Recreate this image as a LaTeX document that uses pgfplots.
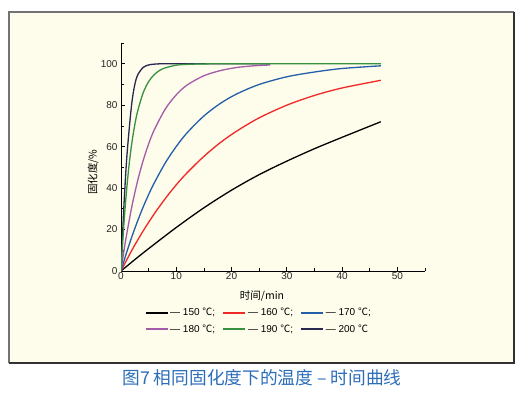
\documentclass[border=0pt]{standalone}
\usepackage{pgfplots}
\pgfplotsset{compat=1.18}
\usepackage{fontspec}
\setmainfont{Liberation Sans}
\newfontfamily\cjk{Noto Sans CJK SC}
\definecolor{cream}{RGB}{254,252,234}
\definecolor{boxgray}{RGB}{115,115,115}
\definecolor{boxdark}{RGB}{50,50,50}
\definecolor{capblue}{RGB}{45,110,185}
\definecolor{cred}{RGB}{240,40,40}
\definecolor{cblue}{RGB}{35,95,170}
\definecolor{cpurple}{RGB}{165,90,170}
\definecolor{cgreen}{RGB}{55,145,65}
\definecolor{cnavy}{RGB}{40,40,80}
\pgfplotsset{mylegend/.style={legend image code/.code={\draw[##1] (0pt,0pt) -- (22pt,0pt);}}}
\begin{document}
\begin{tikzpicture}
\useasboundingbox (0pt,0pt) rectangle (529pt,399pt);
\fill[white] (0pt,0pt) rectangle (529pt,399pt);
\fill[cream] (9pt,36pt) rectangle (514pt,387pt);
\draw[boxgray, line width=1.1pt] (9pt,36pt) -- (9pt,387pt) -- (514pt,387pt);
\draw[boxdark, line width=1.1pt] (9pt,36pt) -- (514pt,36pt) -- (514pt,387pt);
\begin{axis}[
  at={(121pt,128pt)}, anchor=south west,
  scale only axis, width=304pt, height=228pt,
  xmin=0, xmax=55, ymin=0, ymax=110,
  axis x line=bottom, axis y line=left,
  axis line style={-, line width=0.9pt, black},
  xtick={0,10,...,50}, ytick={0,20,...,100},
  minor xtick={5,15,...,55}, minor ytick={10,30,...,110},
  tick align=inside,
  major tick length=4pt, minor tick length=3pt,
  every tick/.style={black, line width=0.8pt},
  /pgf/number format/assume math mode=true,
  tick label style={font=\fontsize{10}{12}\selectfont, text=black!85},
  xticklabel style={inner sep=1.5pt},
  xlabel={\cjk 时间/min},
  ylabel={\cjk 固化度/\%},
  label style={font=\fontsize{10.5}{12}\selectfont},
  xlabel style={at={(axis description cs:0.464,-0.1096)}, anchor=center},
  ylabel style={at={(axis description cs:-0.092,0.434)}, anchor=center},
  legend columns=3,
  legend cell align=left,
  mylegend,
  legend style={draw=none, fill=none, at={(rel axis cs:0.078,-0.154)}, anchor=north west,
    inner sep=0pt, font=\fontsize{10}{12}\selectfont,
    /tikz/every even column/.append style={column sep=5.5pt},
    row sep=3pt},
  every axis plot/.append style={line width=1.3pt},
]
\addlegendimage{black, line width=1.3pt}
\addlegendentry{— 150 {\cjk ℃};}
\addlegendimage{cred, line width=1.3pt}
\addlegendentry{— 160 {\cjk ℃};}
\addlegendimage{cblue, line width=1.3pt}
\addlegendentry{— 170 {\cjk ℃};}
\addlegendimage{cpurple, line width=1.3pt}
\addlegendentry{— 180 {\cjk ℃};}
\addlegendimage{cgreen, line width=1.3pt}
\addlegendentry{— 190 {\cjk ℃};}
\addlegendimage{cnavy, line width=1.3pt}
\addlegendentry{— 200 {\cjk ℃}}
% 150 C
\addplot[black, smooth, forget plot] coordinates {
(0,0) (2.5,5.5) (5,10.8) (10,21) (15,30.5) (20,39) (25,46.5) (30,53) (35,59) (40,64.5) (47,72)};
% 160 C
\addplot[cred, smooth, forget plot] coordinates {
(0,0) (2,10.2) (4,19.3) (6,27.5) (8,34.9) (10,41.6) (12,47.5) (15,55.3) (18,62.0) (21,67.6) (25,73.9) (30,80.0) (35,84.7) (40,88.3) (47,92.0)};
% 170 C
\addplot[cblue, smooth, forget plot] coordinates {
(0,0) (1,8.8) (2,16.8) (3,24.1) (4,30.8) (5,36.9) (6,42.4) (8,52.1) (10,60.1) (12,66.8) (15,74.8) (18,80.9) (21,85.5) (25,90.0) (30,93.7) (35,96.0) (40,97.7) (47,99.0)};
% 180 C
\addplot[cpurple, smooth, forget plot] coordinates {
(0,0) (0.5,9.1) (1,17.3) (2,31.6) (3,43.4) (4,53.2) (5,61.3) (6,68.0) (8,78.1) (10,85.0) (12,89.8) (15,94.2) (18,96.7) (21,98.2) (24,99.0) (27,99.4)};
% 200 C
\addplot[cnavy, smooth, forget plot] coordinates {
(0,0) (0.5,30) (1,53) (1.5,69) (2,82) (2.5,90) (3,94.5) (4,98.2) (5,99.4) (6,99.8) (8,100) (15,100) (27,100)};
% 190 C
\addplot[cgreen, smooth, forget plot] coordinates {
(0,0) (0.5,21.7) (1,38.7) (1.5,52.1) (2,62.5) (2.5,70.6) (3,77.0) (4,85.9) (5,91.4) (6,94.7) (7,96.8) (8,98.0) (10,99.3) (12,99.7) (15,99.9) (20,100) (47,100)};
\end{axis}
\node[font=\cjk\fontsize{17.7}{20}\selectfont, text=capblue] at (262pt,21pt) {图7 相同固化度下的温度 – 时间曲线};
\end{tikzpicture}
\end{document}
